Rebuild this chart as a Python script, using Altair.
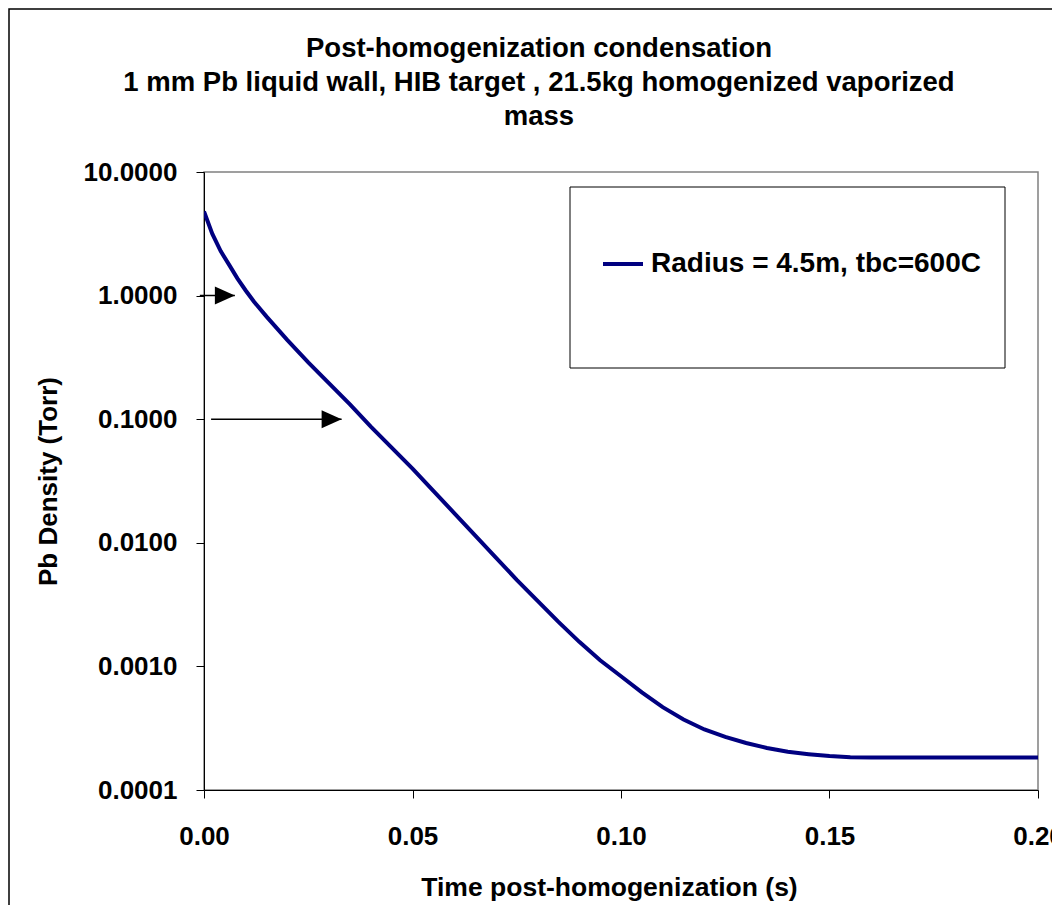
import altair as alt
import pandas as pd

# ---- data ----
time_s = [0.000, 0.002, 0.004, 0.006, 0.008, 0.010, 0.012, 0.015, 0.020, 0.025,
          0.030, 0.035, 0.040, 0.045, 0.050, 0.055, 0.060, 0.065, 0.070, 0.075,
          0.080, 0.085, 0.090, 0.095, 0.100, 0.105, 0.110, 0.115, 0.120, 0.125,
          0.130, 0.135, 0.140, 0.145, 0.150, 0.155, 0.160, 0.200]
density_torr = [4.79, 3.16, 2.29, 1.78, 1.38, 1.10, 0.891, 0.676, 0.437, 0.288,
                0.195, 0.132, 0.0871, 0.0589, 0.0398, 0.0263, 0.0174, 0.0115, 0.00759, 0.00501,
                0.00339, 0.00229, 0.00158, 0.00112, 0.000832, 0.000617, 0.000468, 0.000372,
                0.000309, 0.000269, 0.000240, 0.000219, 0.000204, 0.000195, 0.000188,
                0.000184, 0.000183, 0.000183]
series_name = "Radius = 4.5m, tbc=600C"

y_ticks = [0.0001, 0.001, 0.01, 0.1, 1.0, 10.0]
x_ticks = [0.0, 0.05, 0.10, 0.15, 0.20]

arrow_y = [1.0, 0.1]
arrow_x_start = [-0.0010, 0.0017]
arrow_x_tip = [0.0074, 0.0330]

title_lines = ["Post-homogenization condensation",
               "1 mm Pb liquid wall, HIB target , 21.5kg homogenized vaporized",
               "mass"]

FONT = "Liberation Sans"
NAVY = "#000080"

df = pd.DataFrame({"t": time_s, "p": density_torr, "s": [series_name] * len(time_s)})
arrows = pd.DataFrame({"y": arrow_y, "x0": arrow_x_start, "x1": arrow_x_tip})
one = pd.DataFrame({"a": [0]})

xscale = alt.Scale(domain=[0, 0.2], nice=False, zero=False)
yscale = alt.Scale(type="log", domain=[0.0001, 10], nice=False)

line = alt.Chart(df).mark_line(strokeWidth=4, clip=True).encode(
    x=alt.X("t:Q", scale=xscale,
            axis=alt.Axis(values=x_ticks, format=".2f", title="Time post-homogenization (s)",
                          titleX=405, titleY=97, titleBaseline="middle", titleAlign="center",
                          titleFontSize=26.5, labelPadding=25)),
    y=alt.Y("p:Q", scale=yscale,
            axis=alt.Axis(values=y_ticks, format=".4f", title="Pb Density (Torr)",
                          titleX=-156, titleY=309, titleAngle=270, titleBaseline="middle",
                          titleAlign="center", titleFontSize=26, labelPadding=19)),
    color=alt.Color("s:N", scale=alt.Scale(range=[NAVY]),
                    legend=alt.Legend(title=None, orient="none", legendX=397, legendY=70,
                                      padding=0, symbolType="stroke", symbolSize=1600,
                                      symbolStrokeWidth=4, labelFontSize=28,
                                      labelFont=FONT, labelFontWeight="bold",
                                      labelColor="black", labelOffset=6, labelLimit=0)),
)

legend_box = alt.Chart(one).mark_rect(fill="white", stroke="black", strokeWidth=1).encode(
    x=alt.value(366), x2=alt.value(801), y=alt.value(15), y2=alt.value(196)
)

arrow_lines = alt.Chart(arrows).mark_rule(color="black", strokeWidth=1.5).encode(
    x=alt.X("x0:Q", scale=xscale), x2="x1:Q", y=alt.Y("y:Q", scale=yscale)
)
arrow_heads = alt.Chart(arrows).mark_point(
    shape="M-2,-0.9L0,0L-2,0.9Z", filled=True, color="black", size=400, opacity=1
).encode(x=alt.X("x1:Q", scale=xscale), y=alt.Y("y:Q", scale=yscale))

title = alt.Chart(one).mark_text(
    text="\n".join(title_lines), lineBreak="\n", lineHeight=34, align="center",
    baseline="top", font=FONT, fontWeight="bold", fontSize=27.5, color="black"
).encode(x=alt.value(335), y=alt.value(-137))

frame = alt.Chart(one).mark_rect(fill=None, stroke="black", strokeWidth=1.5).encode(
    x=alt.value(-195), x2=alt.value(900), y=alt.value(-163), y2=alt.value(800)
)

chart = alt.layer(frame, title, legend_box, line, arrow_lines, arrow_heads).properties(
    width=834, height=618,
    padding={"left": 196, "top": 164, "right": 14, "bottom": 115},
    autosize=alt.AutoSizeParams(type="none"),
    background="white",
).configure_view(stroke="#808080", strokeWidth=1.5).configure_axis(
    grid=False, domainColor="black", tickColor="black", tickSize=8,
    labelFont=FONT, labelFontWeight="bold", labelFontSize=26, labelColor="black",
    titleFont=FONT, titleFontWeight="bold", titleColor="black",
    labelFlush=False, labelOverlap=False,
)

chart.save("out.html", embed_options={"renderer": "svg", "actions": False})
